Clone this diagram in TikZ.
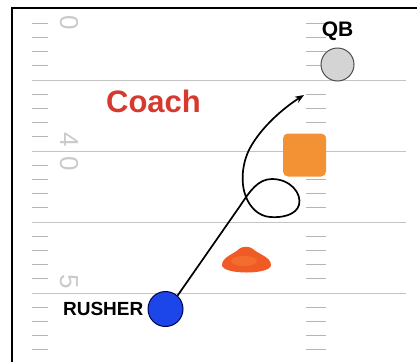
\documentclass[tikz,border=0pt]{standalone}
\usepackage{fontspec}
\setmainfont{Liberation Sans}
\usetikzlibrary{positioning,arrows.meta}
\definecolor{coachred}{HTML}{D6392D}
\definecolor{padorange}{HTML}{F39234}
\definecolor{conered}{HTML}{F05A24}
\definecolor{conelight}{HTML}{F7803A}
\definecolor{rusherblue}{HTML}{1C46EA}
\definecolor{qbgray}{HTML}{D4D4D4}
\definecolor{linegray}{HTML}{C4C4C4}
\definecolor{hashgray}{HTML}{B4B4B4}
\definecolor{numgray}{HTML}{CACACA}
\begin{document}
\begin{tikzpicture}[x=1pt,y=-1pt,>={Stealth[length=9pt,width=7pt]},
	yardline/.style={linegray,line width=1pt},
	hash/.style={hashgray,line width=1.2pt},
	yardnum/.style={numgray,rotate=-90,inner sep=0pt,font=\fontsize{26}{26}\selectfont},
	player/.style={circle,draw,line width=1pt,inner sep=0pt},
	lbl/.style={inner sep=0pt,font=\bfseries\fontsize{#1}{#1}\selectfont}]
	\useasboundingbox (0,0) rectangle (417,362);
	\draw[line width=2pt] (12,362)--(12,8)--(417,8);
	% field
	\foreach \y in {80,151,222,293} \draw[yardline] (32,\y)--(406,\y);
	\foreach \b in {9,80,151,222,293}
		\foreach \j in {1,...,4}
			\draw[hash] (32,\b+14.2*\j)--(48,\b+14.2*\j) (306,\b+14.2*\j)--(326,\b+14.2*\j);
	\node[yardnum] (zeroA) at (69,23) {0};
	\node[yardnum] (four) at (69,140) {4};
	\node[yardnum] (zeroB) at (69,164) {0};
	\node[yardnum] (five) at (69,282) {5};
	% cone and pad
	\fill[conered] (222,265) .. controls (222,257) and (234,254) .. (239,249) .. controls (242,246) and (250,246) .. (253,249) .. controls (258,254) and (271,257) .. (271,265) .. controls (271,275) and (222,275) .. (222,265);
	\fill[conelight,opacity=0.5] (244,261) ellipse (13 and 5);
	\node[fill=padorange,rounded corners=5pt,minimum size=43pt,inner sep=0pt] (pad) at (304.5,155) {};
	% players
	\node[player,fill=qbgray,draw=gray!60!black,minimum size=33pt] (qb) at (337.5,64.5) {};
	\node[lbl=21,above=7pt of qb] (qblabel) {QB};
	\node[player,fill=rusherblue,draw=blue!30!black,minimum size=35pt] (rusher) at (165.5,309) {};
	\node[lbl=19,left=4pt of rusher] (rusherlabel) {RUSHER};
	\node[lbl=31,text=coachred] (coach) at (153.5,101.5) {Coach};
	% rush path
	\coordinate (aim) at (304,95);
	\draw[->,line width=1.7pt] (rusher.48)--(240,206) .. controls (250,191) and (258,179) .. (272,179) .. controls (290,179) and (302,193) .. (299,205) .. controls (296,215) and (282,218) .. (270,217) .. controls (258,216) and (250,207) .. (246,197) .. controls (241,185) and (241,165) .. (250,148) .. controls (262,126) and (285,107) .. (aim);
\end{tikzpicture}
\end{document}
